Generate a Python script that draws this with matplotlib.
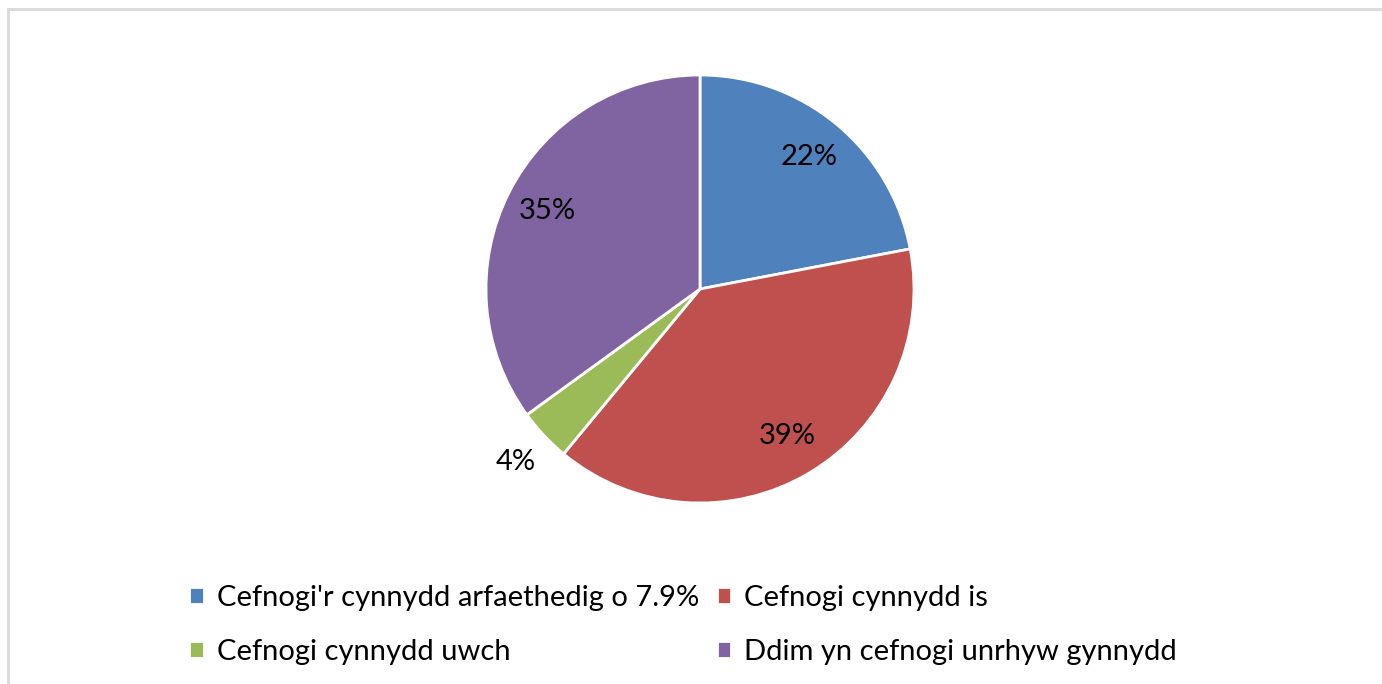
import matplotlib
matplotlib.use("Agg")
import matplotlib.pyplot as plt
from matplotlib.patches import Rectangle

# slice labels and shares (percent)
labels = ["Cefnogi'r cynnydd arfaethedig o 7.9%", "Cefnogi cynnydd is",
          "Cefnogi cynnydd uwch", "Ddim yn cefnogi unrhyw gynnydd"]
shares = [22, 39, 4, 35]
colors = ["#4F81BD", "#C0504D", "#9BBB59", "#8064A2"]

plt.rcParams['font.family'] = ['Lato', 'DejaVu Sans']

fig = plt.figure(figsize=(13.82, 6.84), dpi=100)

# light grey chart border, cut by the right and bottom edges
fig.patches.append(Rectangle((8 / 1382, -0.05), 1.1, (684 - 9) / 684 + 0.05,
                             transform=fig.transFigure, fill=False,
                             edgecolor="#d9d9d9", lw=2))

# pie centre (700, 289) px, radius 214 px
r = 214
ax = fig.add_axes([(700 - r) / 1382, (684 - 289 - r) / 684, 2 * r / 1382, 2 * r / 684])
wedges, texts, autotexts = ax.pie(shares, colors=colors, startangle=90, counterclock=False,
                                  autopct='%d%%', pctdistance=0.8,
                                  wedgeprops=dict(edgecolor="white", linewidth=2),
                                  textprops=dict(fontsize=21, color="black"))
ax.set_xlim(-1, 1)
ax.set_ylim(-1, 1)
ax.set_aspect('equal')
ax.axis('off')

# small slice label sits outside the pie
for w, t in zip(wedges, autotexts):
    if w.theta2 - w.theta1 < 20:
        x, y = t.get_position()
        t.set_position((x * 1.18 / 0.8, y * 1.18 / 0.8))
        t.set_clip_on(False)

# legend in two rows: reorder for column-major filling
order = [0, 2, 1, 3]
fig.legend([wedges[i] for i in order], [labels[i] for i in order], ncol=2,
           loc='center left', bbox_to_anchor=(163 / 1382, 1 - 625 / 684),
           frameon=False, fontsize=21, handlelength=0.5, handleheight=0.5,
           handletextpad=0.45, columnspacing=0.6, labelspacing=0.95)

fig.savefig("out.png", dpi=100)
